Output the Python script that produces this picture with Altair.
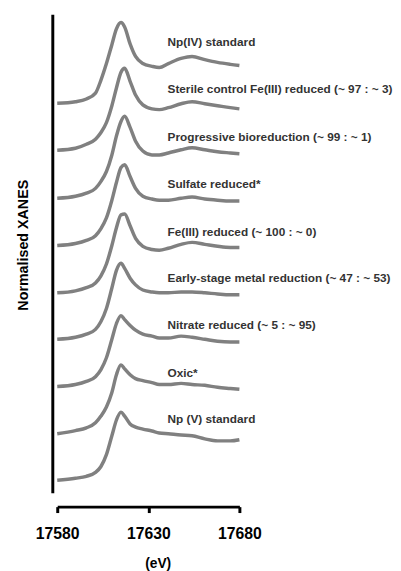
import altair as alt
import pandas as pd

# Energy grid (eV) at which the spectra were read
energy = [17580, 17590, 17596, 17601, 17604, 17607, 17610, 17612.5, 17615, 17617,
          17620, 17623, 17627, 17632, 17636, 17641, 17648, 17654, 17661, 17668,
          17675, 17680]

names = [
    "Np(IV) standard",
    "Sterile control Fe(III) reduced (~ 97 : ~ 3)",
    "Progressive bioreduction (~ 99 : ~ 1)",
    "Sulfate reduced*",
    "Fe(III) reduced (~ 100 : ~ 0)",
    "Early-stage metal reduction (~ 47 : ~ 53)",
    "Nitrate reduced (~ 5 : ~ 95)",
    "Oxic*",
    "Np (V) standard",
]

# vertical stacking offsets of each spectrum
offsets = [9.89, 8.70, 7.48, 6.28, 5.08, 3.90, 2.70, 1.50, 0.32]

np4_std = [0, .04, .11, .26, .59, 1.01, 1.49, 1.89, 2.05, 1.94, 1.51, 1.19, 1.01, .94, .91, 1.01, 1.14, 1.19, 1.11, 1.04, .99, .96]
sterile = [0, .05, .15, .28, .45, .70, 1.13, 1.58, 1.98, 2.08, 1.75, 1.40, 1.15, 1.05, 1.03, 1.08, 1.18, 1.23, 1.18, 1.13, 1.08, 1.05]
progressive = [0, .05, .13, .25, .43, .68, 1.10, 1.58, 1.95, 2.08, 1.80, 1.45, 1.20, 1.10, 1.10, 1.15, 1.23, 1.28, 1.23, 1.18, 1.15, 1.13]
sulfate = [0, .05, .13, .25, .43, .70, 1.15, 1.60, 1.98, 2.05, 1.75, 1.45, 1.25, 1.18, 1.15, 1.15, 1.20, 1.23, 1.18, 1.15, 1.13, 1.13]
fe3 = [0, .05, .13, .25, .43, .73, 1.20, 1.65, 1.98, 2.00, 1.70, 1.38, 1.18, 1.10, 1.08, 1.13, 1.23, 1.28, 1.23, 1.18, 1.15, 1.15]
early = [0, .05, .13, .25, .45, .78, 1.30, 1.75, 1.93, 1.80, 1.55, 1.38, 1.25, 1.20, 1.18, 1.18, 1.20, 1.20, 1.18, 1.15, 1.13, 1.13]
nitrate = [0, .05, .13, .25, .43, .73, 1.20, 1.60, 1.80, 1.70, 1.55, 1.43, 1.33, 1.28, 1.23, 1.23, 1.28, 1.25, 1.20, 1.15, 1.13, 1.13]
oxic = [0, .08, .15, .28, .45, .68, 1.05, 1.50, 1.75, 1.65, 1.50, 1.40, 1.35, 1.30, 1.25, 1.25, 1.28, 1.25, 1.23, 1.18, 1.15, 1.13]
np5_std = [0, .05, .10, .20, .35, .65, 1.13, 1.53, 1.73, 1.63, 1.43, 1.35, 1.30, 1.25, 1.20, 1.18, 1.15, 1.13, 1.05, 1.00, 1.00, 1.03]

spectra = [np4_std, sterile, progressive, sulfate, fe3, early, nitrate, oxic, np5_std]

rows = []
for name, off, vals in zip(names, offsets, spectra):
    for e, v in zip(energy, vals):
        rows.append({"series": name, "energy": e, "xanes": v + off})
df = pd.DataFrame(rows)

lab_df = pd.DataFrame({"series": names, "ly": [o + 1.55 for o in offsets]})

FONT = "Liberation Sans"

x_scale = alt.Scale(domain=[17580, 17680], nice=False, zero=False)
y_scale = alt.Scale(domain=[0, 12.15], nice=False, zero=False)

lines = alt.Chart(df).mark_line(
    color="#808080", strokeWidth=3.5, interpolate="monotone"
).encode(
    x=alt.X("energy:Q", scale=x_scale,
            axis=alt.Axis(values=[17580, 17630, 17680], format="d", title="(eV)",
                          grid=False, offset=14, domainColor="black", domainWidth=3,
                          tickColor="black", tickWidth=3, tickSize=6,
                          labelFlush=False, labelOverlap=False,
                          labelFont=FONT, labelFontWeight="bold", labelFontSize=16,
                          labelColor="black", labelPadding=13,
                          titleFont=FONT, titleFontWeight="bold", titleFontSize=14,
                          titleColor="black", titlePadding=16, titleX=102)),
    y=alt.Y("xanes:Q", scale=y_scale,
            axis=alt.Axis(title="Normalised XANES", labels=False, ticks=False, grid=False,
                          offset=5, domainColor="black", domainWidth=3,
                          titleFont=FONT, titleFontWeight="bold", titleFontSize=14.5,
                          titleColor="black", titlePadding=22, titleY=234)),
    detail="series:N",
)

labels = alt.Chart(lab_df).mark_text(
    align="left", baseline="middle", font=FONT, fontWeight="bold", fontSize=12,
    color="#333333"
).encode(
    x=alt.value(112),
    y=alt.Y("ly:Q", scale=y_scale),
    text="series:N",
)

chart = alt.layer(lines, labels).properties(
    width=185, height=486,
    padding={"left": 8, "top": 2, "right": 0, "bottom": 0},
).configure_view(stroke=None)

chart.save("out.html", embed_options={"renderer": "svg", "actions": False})
